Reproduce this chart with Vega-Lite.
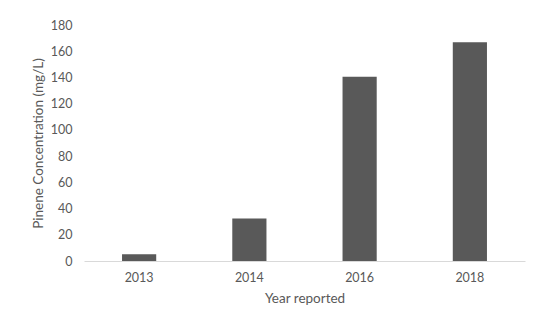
{
  "$schema": "https://vega.github.io/schema/vega-lite/v6.json",
  "width": 441,
  "height": 236,
  "autosize": {"type": "none"},
  "padding": {"left": 84, "top": 25, "right": 25, "bottom": 72},
  "background": "white",
  "data": {"values": [
    {"year": "2013", "conc": 5.1},
    {"year": "2014", "conc": 32.5},
    {"year": "2016", "conc": 140.5},
    {"year": "2018", "conc": 166.8}
  ]},
  "mark": {"type": "bar", "color": "#595959"},
  "encoding": {
    "x": {
      "field": "year", "type": "ordinal",
      "scale": {"paddingInner": 0.69, "paddingOuter": 0.345},
      "axis": {"title": "Year reported", "labelAngle": 0, "ticks": false, "domainColor": "#d9d9d9", "labelPadding": 10, "titlePadding": 8}
    },
    "y": {
      "field": "conc", "type": "quantitative",
      "scale": {"domain": [0, 180]},
      "axis": {"title": "Pinene Concentration (mg/L)", "values": [0,20,40,60,80,100,120,140,160,180], "grid": false, "domain": false, "ticks": false, "labelPadding": 12, "titlePadding": 5}
    }
  },
  "config": {
    "view": {"stroke": null},
    "axis": {
      "labelFont": "Lato", "titleFont": "Lato",
      "labelFontSize": 12.5, "titleFontSize": 13.5,
      "labelColor": "#595959", "titleColor": "#595959",
      "titleFontWeight": "normal"
    }
  }
}
